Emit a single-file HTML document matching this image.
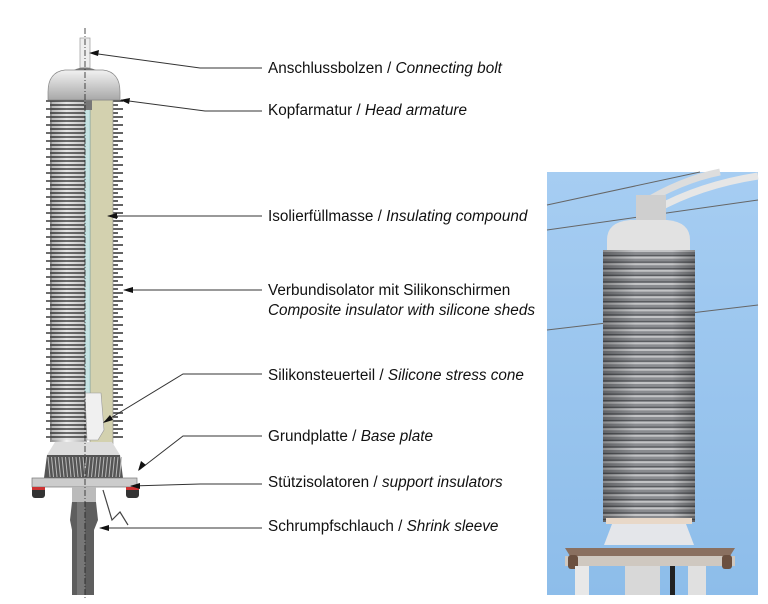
<!DOCTYPE html>
<html><head><meta charset="utf-8"><style>
html,body{margin:0;padding:0;background:#fff;width:768px;height:604px;overflow:hidden}
svg{display:block}
text{font-family:"Liberation Sans",Arial,sans-serif;font-size:15.3px;fill:#111}
.i{font-style:italic}
</style></head><body>
<svg id="s" width="768" height="604" viewBox="0 0 768 604" xmlns="http://www.w3.org/2000/svg">
<defs>
<linearGradient id="cap" x1="0" y1="0" x2="0" y2="1"><stop offset="0" stop-color="#f2f2f2"/><stop offset="1" stop-color="#a8a8a8"/></linearGradient>
<linearGradient id="core" x1="0" y1="0" x2="1" y2="0"><stop offset="0" stop-color="#888"/><stop offset=".45" stop-color="#f4f4f4"/><stop offset="1" stop-color="#aaa"/></linearGradient>
<linearGradient id="sky" x1="0" y1="0" x2="0" y2="1"><stop offset="0" stop-color="#a6cdf2"/><stop offset="1" stop-color="#8dbdea"/></linearGradient>
<linearGradient id="shade" x1="0" y1="0" x2="1" y2="0"><stop offset="0" stop-color="#000" stop-opacity=".3"/><stop offset=".35" stop-color="#000" stop-opacity="0"/><stop offset=".75" stop-color="#000" stop-opacity="0"/><stop offset="1" stop-color="#000" stop-opacity=".3"/></linearGradient>
</defs>

<rect x="50" y="100" width="37" height="342" fill="url(#core)"/>
<g id="fins"></g>
<rect x="90" y="100" width="23" height="345" fill="#d3d1af" stroke="#888" stroke-width=".6"/>
<rect x="85" y="102" width="5" height="295" fill="#c7e3e3" stroke="#7aa" stroke-width=".5"/>
<rect x="84" y="100" width="8" height="10" fill="#777"/>
<path d="M85 393 L101 393 L104 430 L98 440 L87 440 Z" fill="#f0f0f0" stroke="#999" stroke-width=".6"/>
<rect x="80" y="38" width="10" height="30" fill="#eee" stroke="#999" stroke-width=".7"/>
<path d="M48 92 Q48 72 65 70 L103 70 Q120 72 120 92 L120 100 L48 100 Z" fill="url(#cap)" stroke="#888" stroke-width=".7"/>
<path d="M74 70 Q84 65 96 70" fill="#777"/>
<path d="M55 442 L112 442 L120 455 L47 455 Z" fill="#ddd"/>
<path d="M47 455 L120 455 L123 478 L44 478 Z" fill="#555"/>
<g id="cone"></g>
<rect x="32" y="478" width="105" height="9" fill="#ccc" stroke="#777" stroke-width=".7"/>
<rect x="32" y="487" width="13" height="11" rx="3" fill="#333"/><rect x="32" y="487" width="13" height="3" fill="#c33"/>
<rect x="126" y="487" width="13" height="11" rx="3" fill="#333"/><rect x="126" y="487" width="13" height="3" fill="#c33"/>
<rect x="72" y="487" width="24" height="15" fill="#bbb"/>
<path d="M72 502 L96 502 L98 520 L94 530 L94 595 L72 595 L72 530 L70 520 Z" fill="#5e5e5e"/>
<rect x="77" y="502" width="8" height="93" fill="#888" opacity=".6"/>
<path d="M103 490 L112 520 L120 512 L128 525" stroke="#444" fill="none" stroke-width="1.2"/>
<line x1="85" y1="28" x2="85" y2="600" stroke="#222" stroke-width=".8" stroke-dasharray="6 2 1 2"/>

<g stroke="#333" stroke-width="1" fill="none">
<path d="M91 53 L200 68 L262 68"/>
<path d="M121 100 L205 111 L262 111"/>
<path d="M108 216 L262 216"/>
<path d="M124 290 L262 290"/>
<path d="M104 422 L183 374 L262 374"/>
<path d="M139 470 L183 436 L262 436"/>
<path d="M131 486 L200 484 L262 484"/>
<path d="M100 528 L262 528"/>
</g>
<g fill="#111">
<path d="M89 53 l10 -3 l-1 6z"/>
<path d="M120 100 l10 -2 l-1 6z"/>
<path d="M107 216 l10 -3 v6z"/>
<path d="M123 290 l10 -3 v6z"/>
<path d="M103 423 l7 -8 l3 5z"/>
<path d="M138 471 l3 -10 l5 4z"/>
<path d="M130 486 l10 -3 v6z"/>
<path d="M99 528 l10 -3 v6z"/>
</g>

<text x="268" y="73">Anschlussbolzen / <tspan class="i">Connecting bolt</tspan></text>
<text x="268" y="115">Kopfarmatur / <tspan class="i">Head armature</tspan></text>
<text x="268" y="221">Isolierfüllmasse / <tspan class="i">Insulating compound</tspan></text>
<text x="268" y="295">Verbundisolator mit Silikonschirmen</text>
<text x="268" y="315" class="i">Composite insulator with silicone sheds</text>
<text x="268" y="380">Silikonsteuerteil / <tspan class="i">Silicone stress cone</tspan></text>
<text x="268" y="441">Grundplatte / <tspan class="i">Base plate</tspan></text>
<text x="268" y="487">Stützisolatoren / <tspan class="i">support insulators</tspan></text>
<text x="268" y="531">Schrumpfschlauch / <tspan class="i">Shrink sleeve</tspan></text>

<!-- photo -->
<rect x="547" y="172" width="211" height="423" fill="url(#sky)"/>
<g stroke="#666" stroke-width="1" fill="none">
<path d="M547 205 L700 172"/>
<path d="M547 230 L758 200"/>
<path d="M547 330 L758 305"/>
</g>
<path d="M640 205 Q680 180 720 172" stroke="#ddd" stroke-width="7" fill="none"/>
<path d="M655 210 Q700 185 758 176" stroke="#e6e6e6" stroke-width="7" fill="none"/>
<rect x="636" y="195" width="30" height="28" fill="#cfcfcf"/>
<path d="M607 240 Q607 222 630 220 L667 220 Q690 222 690 240 L690 250 L607 250 Z" fill="#e2e2e2"/>
<rect x="603" y="250" width="92" height="272" fill="#8a8c90"/>
<g id="pf"></g>
<rect x="603" y="250" width="92" height="272" fill="url(#shade)"/>
<rect x="606" y="518" width="86" height="6" fill="#e8d8c8"/>
<path d="M612 524 L686 524 L694 545 L604 545 Z" fill="#e4e6ea"/>
<path d="M565 548 L735 548 L730 556 L570 556 Z" fill="#8a7060"/>
<rect x="565" y="556" width="170" height="10" fill="#cfc8c0"/>
<rect x="568" y="555" width="10" height="14" rx="3" fill="#6b5040"/>
<rect x="722" y="555" width="10" height="14" rx="3" fill="#6b5040"/>
<rect x="575" y="566" width="14" height="29" fill="#e8e8e8"/>
<rect x="625" y="566" width="35" height="29" fill="#d8d8d8"/>
<rect x="688" y="566" width="18" height="29" fill="#e0e0e0"/>
<rect x="670" y="566" width="5" height="29" fill="#222"/>
</svg>
<script>
var NS="http://www.w3.org/2000/svg";
function L(g,x1,y1,x2,y2,c,w){var l=document.createElementNS(NS,"line");l.setAttribute("x1",x1);l.setAttribute("y1",y1);l.setAttribute("x2",x2);l.setAttribute("y2",y2);l.setAttribute("stroke",c);l.setAttribute("stroke-width",w);g.appendChild(l);}
var f=document.getElementById("fins"),i=0;
for(var y=101;y<441;y+=4,i++){var lx=(i%2)?50:46,rx=(i%2)?118:123;
L(f,lx,y,87,y,"#3c3c3c",1.6);L(f,113,y,rx,y,"#3c3c3c",1.6);L(f,52,y+2,87,y+2,"#d8d8d8",1);}
var c=document.getElementById("cone");
for(var x=48;x<122;x+=3.5){L(c,x,457,x+(x<84?2:-2),477,"#bbb",1);}
var p=document.getElementById("pf");
for(var y=251;y<520;y+=6.6){L(p,603,y,695,y,"#c3c4c6",2);L(p,603,y+4.5,695,y+4.5,"#5a5c60",1.3);}
</script>
</body></html>
